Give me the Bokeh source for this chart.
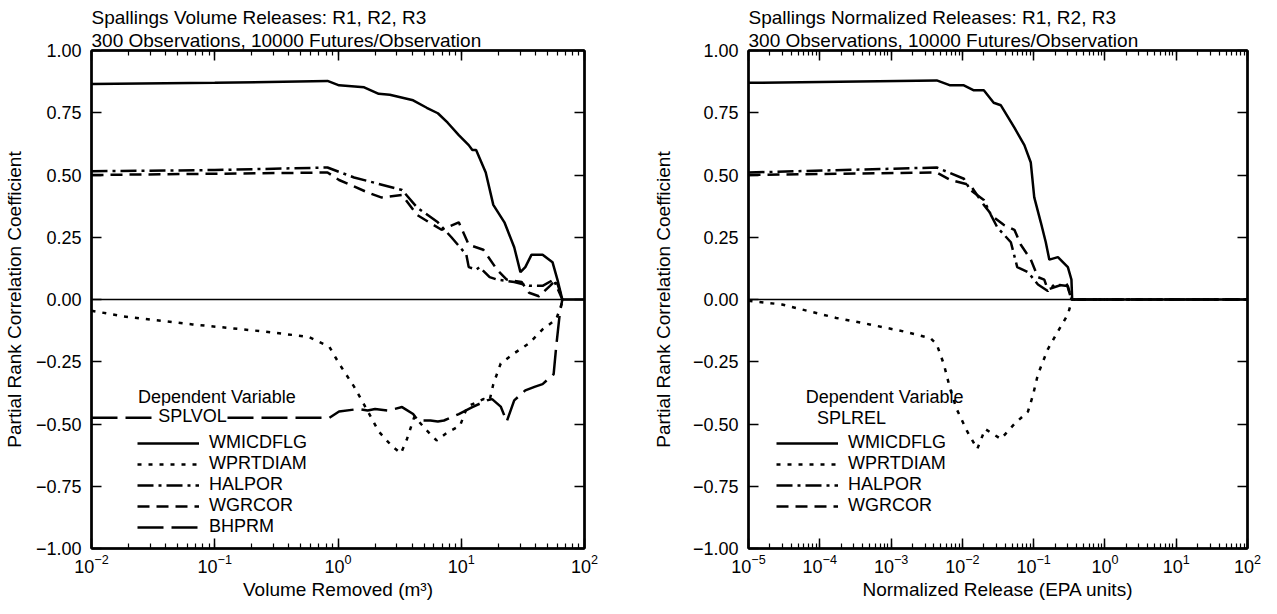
from bokeh.plotting import figure
from bokeh.layouts import row
from bokeh.models import (Range1d, FixedTicker, CustomJSTickFormatter, LogAxis, LinearAxis,
                          LogTicker, Span, Title, Legend, LegendItem, Label)
from bokeh.embed import file_html
from bokeh.resources import INLINE

FONT = "Liberation Sans"

# ---------------- data: left panel (Volume Removed, m^3) ----------------
L_TITLE1 = "Spallings Volume Releases: R1, R2, R3"
L_TITLE2 = "300 Observations, 10000 Futures/Observation"
L_XLABEL = "Volume Removed (m\u00b3)"
L_DEPVAR = "SPLVOL"

l_wmic_x = [0.01, 0.1, 0.822, 1.02, 1.63, 2.14, 2.63, 4.07, 5.25, 6.46, 7.76, 9.55, 11.5, 12.3,
            13.2, 15.8, 18.2, 22.4, 26.9, 30.2, 33.1, 37.2, 45.7, 55.0, 60.3, 66.1, 100]
l_wmic_y = [0.865, 0.87, 0.878, 0.86, 0.852, 0.826, 0.822, 0.80, 0.77, 0.748, 0.71, 0.66, 0.62, 0.60,
            0.60, 0.51, 0.38, 0.31, 0.21, 0.11, 0.13, 0.18, 0.18, 0.15, 0.08, 0.0, 0.0]

l_wprt_x = [0.01, 0.0182, 0.066, 0.245, 0.575, 0.851, 1.02, 1.35, 1.62, 2.14, 2.75, 3.24, 3.63, 4.17,
            5.25, 6.31, 7.76, 9.77, 11.2, 15.1, 17.0, 18.2, 20.9, 26.9, 35.5, 45.7, 58.9, 66.1, 67.6]
l_wprt_y = [-0.045, -0.068, -0.10, -0.128, -0.15, -0.19, -0.257, -0.35, -0.42, -0.53, -0.59, -0.618,
            -0.56, -0.47, -0.526, -0.566, -0.533, -0.507, -0.43, -0.40, -0.405, -0.34, -0.257, -0.216,
            -0.176, -0.12, -0.08, -0.01, 0.0]

l_halp_x = [0.01, 0.1, 0.822, 1.35, 3.31, 4.37, 6.46, 8.32, 11.0, 11.5, 13.2, 14.1, 17.0, 19.5,
            26.9, 35.5, 45.7, 56.2, 66.1]
l_halp_y = [0.515, 0.52, 0.53, 0.49, 0.44, 0.37, 0.31, 0.25, 0.18, 0.13, 0.12, 0.13, 0.09, 0.08,
            0.07, 0.055, 0.055, 0.08, 0.0]

l_wgrc_x = [0.01, 0.1, 0.822, 1.02, 1.74, 2.24, 3.31, 4.37, 6.92, 9.55, 11.5, 15.1, 19.5, 23.4,
            30.9, 35.5, 42.7, 52.5, 58.9, 66.1]
l_wgrc_y = [0.50, 0.505, 0.51, 0.48, 0.43, 0.41, 0.42, 0.34, 0.28, 0.31, 0.22, 0.20, 0.12, 0.08,
            0.07, 0.027, 0.013, 0.055, 0.08, 0.0]

l_bhpr_x = [0.01, 0.851, 1.02, 1.45, 1.74, 2.0, 2.57, 3.31, 4.07, 4.47, 5.62, 6.46, 7.24, 9.55,
            12.3, 16.2, 17.8, 20.9, 23.4, 26.9, 33.1, 39.8, 45.7, 56.2, 58.9, 63.1, 66.1]
l_bhpr_y = [-0.475, -0.475, -0.45, -0.44, -0.446, -0.44, -0.446, -0.432, -0.46, -0.486, -0.486,
            -0.49, -0.486, -0.46, -0.432, -0.405, -0.40, -0.43, -0.49, -0.405, -0.365, -0.35, -0.34,
            -0.30, -0.19, -0.054, 0.0]

# ---------------- data: right panel (Normalized Release, EPA units) ----------------
R_TITLE1 = "Spallings Normalized Releases: R1, R2, R3"
R_TITLE2 = "300 Observations, 10000 Futures/Observation"
R_XLABEL = "Normalized Release (EPA units)"
R_DEPVAR = "SPLREL"

r_wmic_x = [1e-5, 4.37e-3, 6.76e-3, 0.0105, 0.0145, 0.0200, 0.0275, 0.0347, 0.0537, 0.0741, 0.0912,
            0.102, 0.126, 0.148, 0.166, 0.219, 0.302, 0.339, 0.347, 100]
r_wmic_y = [0.87, 0.88, 0.86, 0.86, 0.84, 0.84, 0.79, 0.78, 0.69, 0.62, 0.55, 0.41, 0.31, 0.23,
            0.16, 0.17, 0.13, 0.08, 0.0, 0.0]

r_wprt_x = [1e-5, 2.95e-5, 5.62e-5, 1.70e-4, 5.01e-4, 1.48e-3, 3.55e-3, 4.37e-3, 5.50e-3, 6.76e-3,
            8.32e-3, 0.0117, 0.0162, 0.0209, 0.0347, 0.0537, 0.0832, 0.0977, 0.115, 0.158, 0.219,
            0.302, 0.347, 100]
r_wprt_y = [-0.005, -0.02, -0.04, -0.074, -0.10, -0.128, -0.155, -0.18, -0.26, -0.36, -0.44, -0.53,
            -0.60, -0.52, -0.56, -0.50, -0.45, -0.385, -0.30, -0.20, -0.128, -0.06, 0.0, 0.0]

r_halp_x = [1e-5, 4.37e-3, 0.0105, 0.0129, 0.0200, 0.0251, 0.0309, 0.0479, 0.0589, 0.0832, 0.115,
            0.158, 0.195, 0.302, 0.339, 100]
r_halp_y = [0.51, 0.53, 0.485, 0.44, 0.40, 0.34, 0.29, 0.23, 0.13, 0.11, 0.06, 0.034, 0.06, 0.054,
            0.0, 0.0]

r_wgrc_x = [1e-5, 4.37e-3, 6.76e-3, 0.0129, 0.0200, 0.0275, 0.0380, 0.0537, 0.0661, 0.0912, 0.115,
            0.141, 0.158, 0.219, 0.288, 0.339, 100]
r_wgrc_y = [0.50, 0.51, 0.48, 0.46, 0.38, 0.33, 0.30, 0.28, 0.22, 0.16, 0.09, 0.08, 0.04, 0.054,
            0.068, 0.0, 0.0]

Y_TICKS = [-1.0, -0.75, -0.5, -0.25, 0.0, 0.25, 0.5, 0.75, 1.0]
Y_LABEL = "Partial Rank Correlation Coefficient"
LEGEND_HEAD = "Dependent Variable"

STYLES = {
    "WMICDFLG": dict(line_dash="solid"),
    "WPRTDIAM": dict(line_dash="4 7"),
    "HALPOR": dict(line_dash="16 5 3 5"),
    "WGRCOR": dict(line_dash="12 7"),
    "BHPRM": dict(line_dash="26 8"),
}

FS_TICK = "18px"
FS_TEXT = "19px"
FS_LEG = "18px"


def style_axis(ax, labels=True):
    ax.axis_line_width = 2.5
    ax.axis_line_color = "black"
    ax.major_tick_in = 10
    ax.major_tick_out = 0
    ax.minor_tick_in = 5
    ax.minor_tick_out = 0
    ax.major_tick_line_width = 1.5
    ax.minor_tick_line_width = 1.2
    ax.major_tick_line_color = "black"
    ax.minor_tick_line_color = "black"
    ax.major_label_text_font = FONT
    ax.major_label_text_font_size = FS_TICK
    ax.major_label_text_color = "black"
    ax.axis_label_text_font = FONT
    ax.axis_label_text_font_size = FS_TEXT
    ax.axis_label_text_font_style = "normal"
    ax.axis_label_text_color = "black"
    if not labels:
        ax.formatter = CustomJSTickFormatter(code="return '';")
        ax.major_label_standoff = 0


def make_panel(title1, title2, xlabel, depvar, xr, width, bl, br, series,
               head_x, head_y, dep_x, dep_y, leg_loc, ylab_standoff):
    p = figure(width=width, height=602, x_axis_type="log", x_range=Range1d(*xr),
               y_range=Range1d(-1, 1), output_backend="svg", toolbar_location=None,
               min_border_left=bl, min_border_right=br, min_border_top=50, min_border_bottom=52,
               title=None)
    p.xgrid.visible = False
    p.ygrid.visible = False
    p.outline_line_color = "black"
    p.outline_line_width = 2
    p.background_fill_color = "white"
    p.border_fill_color = "white"

    xax = p.xaxis[0]
    xax.axis_label = xlabel
    xax.ticker = LogTicker(num_minor_ticks=10)
    style_axis(xax)
    xax.major_label_standoff = 5
    xax.axis_label_standoff = 3

    yax = p.yaxis[0]
    yax.ticker = FixedTicker(ticks=Y_TICKS, minor_ticks=[])
    yax.formatter = CustomJSTickFormatter(
        code="return (tick < 0 ? '\u2212' : '') + Math.abs(tick).toFixed(2);")
    yax.axis_label = Y_LABEL
    style_axis(yax)
    yax.major_label_standoff = 10
    yax.axis_label_standoff = ylab_standoff

    top = LogAxis(ticker=LogTicker(num_minor_ticks=10))
    style_axis(top, labels=False)
    p.add_layout(top, "above")
    right = LinearAxis(ticker=FixedTicker(ticks=Y_TICKS, minor_ticks=[]))
    style_axis(right, labels=False)
    p.add_layout(right, "right")

    p.add_layout(Title(text=title2, align="left", text_font=FONT, text_font_size=FS_TEXT,
                       text_font_style="normal", text_color="black", standoff=0, offset=0), "above")
    p.add_layout(Title(text=title1, align="left", text_font=FONT, text_font_size=FS_TEXT,
                       text_font_style="normal", text_color="black", standoff=0, offset=0), "above")

    p.add_layout(Span(location=0, dimension="width", line_color="black", line_width=1.5))

    items = []
    for name, xs, ys in series:
        r = p.line(xs, ys, line_color="black", line_width=2.5, **STYLES[name])
        items.append(LegendItem(label=name, renderers=[r]))

    p.add_layout(Label(x=head_x, y=head_y, text=LEGEND_HEAD, text_align="center",
                       text_baseline="middle", text_font=FONT, text_font_size=FS_LEG,
                       text_color="black"))
    p.add_layout(Label(x=dep_x, y=dep_y, text=depvar, text_align="center",
                       text_baseline="middle", text_font=FONT, text_font_size=FS_LEG,
                       text_color="black", background_fill_color="white"))

    leg = Legend(items=items, location=leg_loc, border_line_color=None, background_fill_alpha=0,
                 label_text_font=FONT, label_text_font_size=FS_LEG, label_text_color="black",
                 glyph_width=62, glyph_height=20, label_height=20, spacing=0, padding=0, margin=0,
                 label_standoff=10)
    p.add_layout(leg)
    return p


p1 = make_panel(L_TITLE1, L_TITLE2, L_XLABEL, L_DEPVAR, (1e-2, 1e2), 632, 90, 48,
                [("WMICDFLG", l_wmic_x, l_wmic_y), ("WPRTDIAM", l_wprt_x, l_wprt_y),
                 ("HALPOR", l_halp_x, l_halp_y), ("WGRCOR", l_wgrc_x, l_wgrc_y),
                 ("BHPRM", l_bhpr_x, l_bhpr_y)],
                0.104, -0.39, 0.066, -0.467, (46, 11), 8)
p2 = make_panel(R_TITLE1, R_TITLE2, R_XLABEL, R_DEPVAR, (1e-5, 1e2), 629, 116, 14,
                [("WMICDFLG", r_wmic_x, r_wmic_y), ("WPRTDIAM", r_wprt_x, r_wprt_y),
                 ("HALPOR", r_halp_x, r_halp_y), ("WGRCOR", r_wgrc_x, r_wgrc_y)],
                8.1e-4, -0.39, 2.78e-4, -0.475, (28, 32), 16)

layout = row(p1, p2)
open("out.html", "w").write(file_html(layout, INLINE))
